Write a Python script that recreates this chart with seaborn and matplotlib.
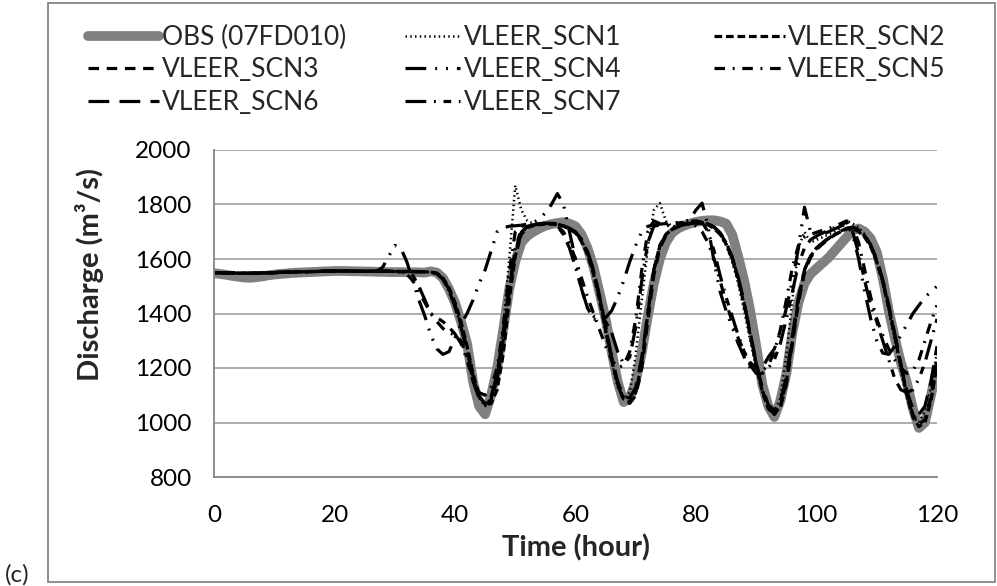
import matplotlib
matplotlib.use("Agg")
import matplotlib.pyplot as plt
from matplotlib.patches import Rectangle
import seaborn as sns

hours = list(range(121))

obs = [1548,1545,1542,1538,1535,1532,1531,1533,1536,1540,1543,1545,1547,1549,1550,1551,1552,1553,1554,1555,
       1556,1556,1556,1555,1555,1554,1554,1553,1553,1552,1552,1552,1551,1551,1551,1550,1555,1550,1530,1490,
       1440,1370,1290,1150,1060,1030,1100,1200,1340,1490,1590,1660,1685,1700,1712,1722,1728,1732,1735,1730,
       1720,1690,1640,1570,1476,1380,1260,1150,1075,1090,1150,1256,1390,1510,1600,1660,1695,1712,1722,1730,
       1736,1740,1742,1742,1738,1730,1690,1610,1520,1410,1280,1140,1060,1020,1080,1180,1330,1440,1510,1545,
       1565,1585,1605,1630,1655,1680,1705,1712,1700,1675,1625,1530,1410,1310,1220,1147,1050,980,1000,1100,1200]

# t = 0..27, shared by all scenarios
lead = [1550,1550,1549,1549,1548,1548,1548,1548,1549,1549,1550,1551,1552,1552,1553,1553,1554,1554,1555,1555,
        1556,1556,1556,1556,1555,1555,1555,1555]
# t = 28..35, scenarios staying on the baseline
mid = [1555,1555,1554,1554,1554,1554,1553,1553]

# t = 36..120
scn1_tail = [1552,1545,1525,1480,1420,1350,1270,1170,1090,1060,1080,1180,1350,1600,1870,1780,1740,1730,1728,1730,
             1730,1728,1722,1712,1700,1670,1620,1540,1440,1330,1220,1130,1090,1110,1250,1450,1640,1780,1805,1740,
             1720,1722,1725,1728,1730,1730,1725,1715,1690,1650,1590,1510,1410,1300,1200,1110,1050,1040,1090,1250,
             1450,1640,1700,1660,1670,1680,1690,1700,1715,1740,1730,1715,1690,1650,1590,1510,1410,1300,1190,1090,
             1020,1000,1040,1130,1260]
scn2_tail = [1552,1548,1530,1495,1440,1370,1280,1180,1100,1065,1070,1120,1250,1450,1610,1690,1715,1722,1726,1728,
             1728,1726,1720,1710,1695,1665,1615,1545,1450,1340,1230,1140,1085,1075,1110,1220,1400,1560,1650,1690,
             1710,1720,1726,1730,1732,1730,1725,1712,1690,1655,1600,1525,1430,1320,1210,1115,1050,1030,1060,1150,
             1300,1450,1560,1610,1640,1660,1675,1690,1700,1710,1712,1700,1680,1645,1590,1515,1420,1315,1205,1100,
             1020,985,1000,1080,1210]
scn3_tail = [1552,1547,1528,1490,1432,1360,1270,1170,1095,1065,1085,1160,1300,1480,1620,1695,1718,1725,1728,1730,
             1730,1728,1722,1712,1698,1670,1625,1555,1460,1350,1235,1140,1080,1070,1100,1200,1370,1540,1640,1685,
             1708,1718,1725,1730,1733,1733,1728,1716,1695,1660,1605,1530,1435,1325,1215,1120,1055,1030,1055,1140,
             1290,1440,1550,1605,1635,1655,1672,1688,1700,1712,1716,1705,1685,1650,1595,1520,1425,1320,1210,1105,
             1030,995,1010,1090,1230]
scn6_tail = [1552,1546,1525,1485,1425,1350,1262,1165,1095,1070,1095,1180,1330,1500,1630,1698,1720,1726,1729,1731,
             1731,1729,1723,1713,1700,1672,1628,1560,1465,1355,1240,1150,1095,1090,1130,1240,1400,1560,1648,1690,
             1710,1720,1726,1731,1734,1734,1729,1718,1697,1662,1608,1534,1440,1330,1220,1128,1065,1045,1075,1170,
             1320,1460,1560,1612,1640,1660,1676,1690,1702,1713,1717,1707,1687,1652,1598,1524,1430,1325,1215,1115,
             1050,1030,1060,1150,1280]

# t = 28..120, scenarios leaving the baseline early
scn4_tail = [1570,1610,1650,1640,1590,1520,1450,1390,1320,1270,1250,1260,1310,1360,1400,1450,1510,1560,1630,1700,
             1715,1720,1722,1724,1728,1735,1745,1770,1800,1840,1800,1700,1600,1490,1420,1390,1380,1385,1410,1460,
             1520,1590,1650,1700,1720,1725,1728,1730,1732,1734,1736,1745,1780,1805,1720,1590,1480,1410,1350,1290,
             1240,1200,1185,1200,1240,1270,1330,1420,1520,1640,1790,1700,1680,1690,1700,1710,1720,1730,1690,1600,
             1480,1380,1300,1255,1250,1280,1320,1360,1400,1430,1460,1480,1500]
scn5_tail = [1555,1555,1554,1552,1545,1520,1480,1440,1400,1370,1345,1330,1320,1300,1240,1160,1110,1100,1130,1200,
             1350,1550,1700,1720,1722,1725,1728,1730,1728,1720,1700,1660,1600,1530,1460,1400,1340,1280,1230,1200,
             1210,1260,1380,1560,1700,1740,1730,1722,1725,1728,1730,1728,1720,1700,1660,1600,1520,1440,1370,1310,
             1260,1220,1200,1190,1210,1260,1340,1450,1570,1650,1680,1690,1698,1705,1712,1720,1730,1740,1720,1660,
             1560,1460,1380,1320,1270,1230,1200,1180,1190,1230,1300,1370,1430]
scn7_tail = [1555,1555,1554,1553,1550,1540,1500,1450,1400,1385,1370,1350,1325,1290,1230,1150,1090,1070,1090,1160,
             1300,1480,1640,1710,1720,1725,1730,1732,1730,1720,1690,1640,1570,1490,1420,1380,1375,1370,1330,1260,
             1215,1240,1350,1520,1660,1720,1725,1728,1730,1732,1735,1738,1740,1735,1700,1630,1540,1460,1390,1320,
             1260,1210,1180,1180,1200,1230,1290,1380,1480,1580,1640,1670,1685,1695,1705,1715,1725,1735,1700,1620,
             1520,1430,1370,1300,1230,1160,1120,1110,1120,1160,1220,1300,1380]

series = {
    "OBS (07FD010)": obs,
    "VLEER_SCN1": lead + mid + scn1_tail,
    "VLEER_SCN2": lead + mid + scn2_tail,
    "VLEER_SCN3": lead + mid + scn3_tail,
    "VLEER_SCN4": lead + scn4_tail,
    "VLEER_SCN5": lead + scn5_tail,
    "VLEER_SCN6": lead + mid + scn6_tail,
    "VLEER_SCN7": lead + scn7_tail,
}

styles = {
    "OBS (07FD010)": dict(color="#808080", lw=7.0, ls="-"),
    "VLEER_SCN1": dict(color="black", lw=1.8, ls=(0, (0.6, 1.3))),
    "VLEER_SCN2": dict(color="black", lw=2.3, ls=(0, (2.4, 1.2))),
    "VLEER_SCN3": dict(color="black", lw=2.3, ls=(0, (3.3, 2.4))),
    "VLEER_SCN4": dict(color="black", lw=2.3, ls=(0, (6.5, 2.8, 0.6, 2.8, 0.6, 2.8))),
    "VLEER_SCN5": dict(color="black", lw=2.3, ls=(0, (3.3, 2.4, 0.6, 2.4))),
    "VLEER_SCN6": dict(color="black", lw=2.3, ls=(0, (6.5, 3.2))),
    "VLEER_SCN7": dict(color="black", lw=2.3, ls=(0, (6.5, 2.4, 0.6, 2.4, 2.4, 2.4))),
}

sns.set_style("white")
plt.rcParams["font.family"] = ["Lato", "DejaVu Sans"]

fig = plt.figure(figsize=(9.97, 5.86), dpi=100)
ax = fig.add_axes([214/997, 1-477/586, (937-214)/997, (477-150)/586])

handles = {}
for name, vals in series.items():
    st = styles[name]
    sns.lineplot(x=hours, y=vals, ax=ax, color=st["color"], linewidth=st["lw"],
                 linestyle=st["ls"], label=name, legend=False,
                 solid_capstyle="round", dash_capstyle="butt")
    handles[name] = ax.lines[-1]

ax.set_xlim(0, 120)
ax.set_ylim(800, 2000)
ax.set_xticks(range(0, 121, 20))
ax.set_yticks(range(800, 2001, 200))
ax.yaxis.grid(True, color="#a6a6a6", lw=1.3)
ax.xaxis.grid(False)
ax.set_axisbelow(True)
for s in ["top", "right"]:
    ax.spines[s].set_visible(False)
for s in ["left", "bottom"]:
    ax.spines[s].set_color("#868686")
    ax.spines[s].set_linewidth(1.3)
ax.tick_params(axis="both", direction="out", length=6, width=1.3, color="#868686",
               labelsize=17.5, labelcolor="black", pad=10)
ax.tick_params(axis="x", pad=14)
ax.set_xlabel("Time (hour)", fontsize=21, fontweight="bold", labelpad=6)
ax.set_ylabel("")
fig.text(90/997, 1-274/586, "Discharge (m³/s)", rotation=90, fontsize=21,
         fontweight="bold", ha="center", va="center")

columns = [
    (88, 2.7, ["OBS (07FD010)", "VLEER_SCN3", "VLEER_SCN6"]),
    (405, 2.1, ["VLEER_SCN1", "VLEER_SCN4", "VLEER_SCN7"]),
    (714, 2.7, ["VLEER_SCN2", "VLEER_SCN5"]),
]
for x0, hl, names in columns:
    fig.legend([handles[k] for k in names], names, loc="upper left",
               bbox_to_anchor=(x0/997, 1-25/586), frameon=False, fontsize=19,
               handlelength=hl, handletextpad=0.12, labelspacing=0.28,
               borderaxespad=0, borderpad=0)

fig.add_artist(Rectangle((48/997, 4/586), (995-48)/997, (583-4)/586,
                         transform=fig.transFigure, fill=False,
                         edgecolor="#868686", lw=1.3))
fig.text(5/997, 1-575/586, "(c)", fontsize=17.5, ha="left", va="center")

fig.savefig("out.png", dpi=100)
